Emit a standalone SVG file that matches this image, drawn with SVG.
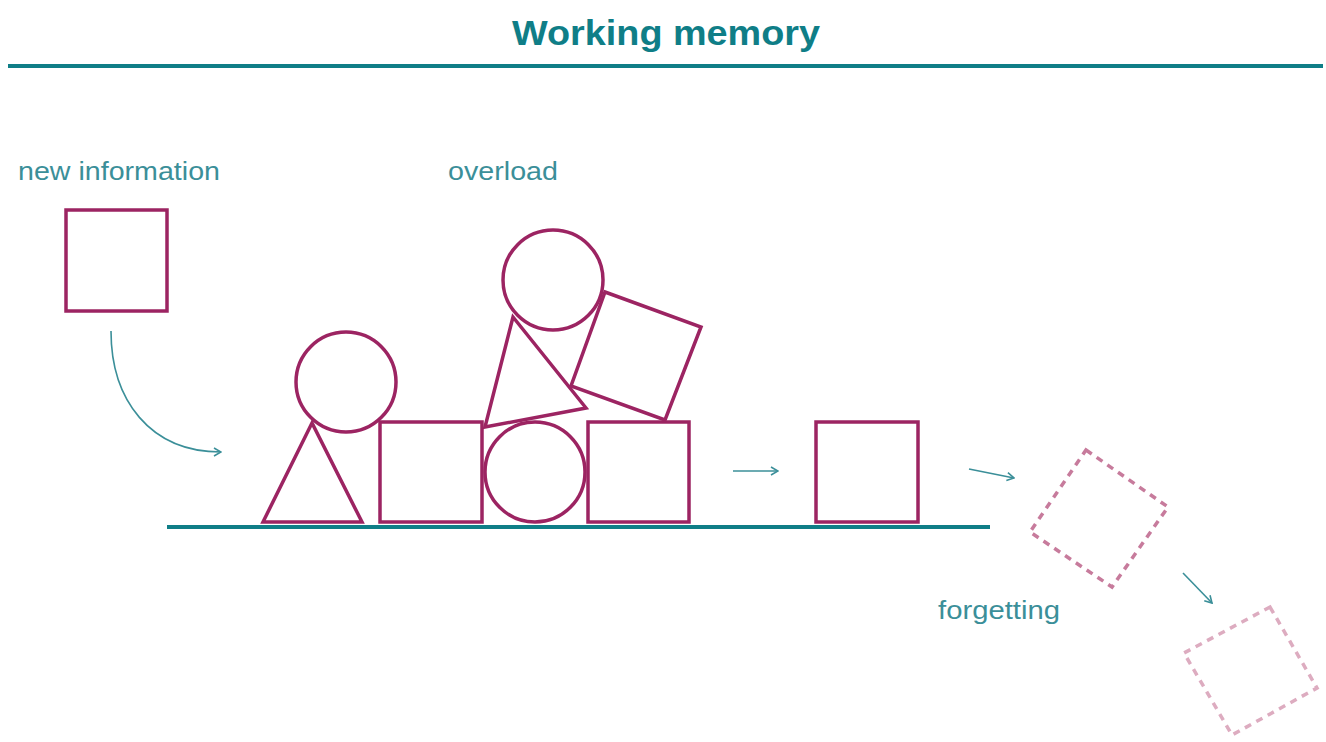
<svg xmlns="http://www.w3.org/2000/svg" width="1326" height="742" viewBox="0 0 1326 742">
  <defs>
    <style>
      .title { font-family: "Liberation Sans", Arial, sans-serif; font-weight: bold; font-size: 35px; fill: #0f7e87; }
      .label { font-family: "Liberation Sans", Arial, sans-serif; font-size: 26px; fill: #3b8f99; }
      .rule { stroke: #0f7e87; stroke-width: 4; fill: none; }
      .shape { fill: none; stroke: #9c2462; stroke-width: 3.5; stroke-linejoin: miter; }
      .fade1 { fill: none; stroke: #c77b9c; stroke-width: 3.5; stroke-dasharray: 7 6; }
      .fade2 { fill: none; stroke: #ddacc0; stroke-width: 3.5; stroke-dasharray: 7 6; }
      .conn { fill: none; stroke: #3b8f99; stroke-width: 1.6; }
    </style>
    <marker id="arrow" viewBox="0 0 10 10" refX="9" refY="5" markerWidth="10" markerHeight="10" markerUnits="userSpaceOnUse" orient="auto">
      <path d="M2,1 L9,5 L2,9" fill="none" stroke="#3b8f99" stroke-width="1.6"/>
    </marker>
  </defs>
  <rect width="1326" height="742" fill="#ffffff"/>

  <g id="title">
    <text class="title" x="666" y="45" text-anchor="middle" textLength="308" lengthAdjust="spacingAndGlyphs">Working memory</text>
    <line class="rule" x1="8" y1="66" x2="1323" y2="66"/>
  </g>

  <g id="labels">
    <text class="label" x="18" y="180" textLength="202" lengthAdjust="spacingAndGlyphs">new information</text>
    <text class="label" x="448" y="180" textLength="110" lengthAdjust="spacingAndGlyphs">overload</text>
    <text class="label" x="938" y="619" textLength="122" lengthAdjust="spacingAndGlyphs">forgetting</text>
  </g>

  <g id="ground">
    <line class="rule" x1="167" y1="527" x2="990" y2="527"/>
  </g>

  <g id="new-square">
    <rect class="shape" x="66" y="210" width="101" height="101"/>
  </g>

  <g id="stack">
    <polygon class="shape" points="312,423 263,522 362,522"/>
    <circle class="shape" cx="346" cy="382" r="50"/>
    <rect class="shape" x="380" y="422" width="102" height="100"/>
    <circle class="shape" cx="535" cy="472" r="50"/>
    <rect class="shape" x="588" y="422" width="101" height="100"/>
    <polygon class="shape" points="513,317 586,408 485,427"/>
    <circle class="shape" cx="553" cy="280" r="50"/>
    <polygon class="shape" points="605,292 701,327 665,420 571,386"/>
  </g>

  <g id="kept-square">
    <rect class="shape" x="816" y="422" width="102" height="100"/>
  </g>

  <g id="forgotten-1">
    <polygon class="fade1" points="1086,450 1168,507 1112,587 1030,532"/>
  </g>
  <g id="forgotten-2">
    <polygon class="fade2" points="1270,607 1317,688 1232,735 1184,653"/>
  </g>

  <g id="connectors">
    <path class="conn" d="M111,331 C111,400 150,452 221,452" marker-end="url(#arrow)"/>
    <path class="conn" d="M733,471 L778,471" marker-end="url(#arrow)"/>
    <path class="conn" d="M969,469 L1014,478" marker-end="url(#arrow)"/>
    <path class="conn" d="M1183,573 L1212,603" marker-end="url(#arrow)"/>
  </g>
</svg>
